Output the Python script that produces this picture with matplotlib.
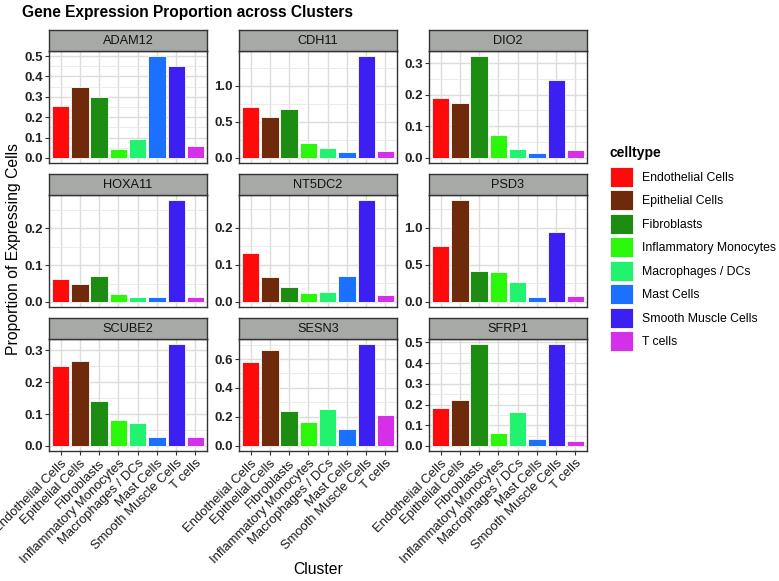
import numpy as np
import matplotlib
matplotlib.use("Agg")
import matplotlib.pyplot as plt
from matplotlib.patches import Patch
from matplotlib.ticker import MultipleLocator

plt.rcParams['font.family'] = ['Liberation Sans', 'DejaVu Sans']

# -------------------------------
# Data
# -------------------------------
celltypes = ["Endothelial Cells", "Epithelial Cells", "Fibroblasts",
             "Inflammatory Monocytes", "Macrophages / DCs", "Mast Cells",
             "Smooth Muscle Cells", "T cells"]
colors = ["#FF0A0A", "#6E2A0A", "#1C8C12", "#2AF70A",
          "#22F26E", "#1C70FF", "#3C20F2", "#D430EA"]

genes = ["ADAM12", "CDH11", "DIO2", "HOXA11", "NT5DC2", "PSD3",
         "SCUBE2", "SESN3", "SFRP1"]

adam12 = [0.254, 0.349, 0.300, 0.042, 0.095, 0.500, 0.451, 0.059]
cdh11 = [0.706, 0.560, 0.674, 0.200, 0.138, 0.087, 1.408, 0.092]
dio2 = [0.190, 0.173, 0.322, 0.073, 0.027, 0.016, 0.246, 0.024]
hoxa11 = [0.063, 0.050, 0.070, 0.022, 0.013, 0.012, 0.277, 0.012]
nt5dc2 = [0.132, 0.067, 0.041, 0.024, 0.028, 0.070, 0.274, 0.019]
psd3 = [0.758, 1.377, 0.413, 0.400, 0.270, 0.072, 0.946, 0.085]
scube2 = [0.250, 0.268, 0.142, 0.080, 0.072, 0.027, 0.320, 0.028]
sesn3 = [0.580, 0.664, 0.244, 0.162, 0.258, 0.116, 0.703, 0.210]
sfrp1 = [0.185, 0.224, 0.492, 0.061, 0.166, 0.035, 0.492, 0.026]

values = [adam12, cdh11, dio2, hoxa11, nt5dc2, psd3, scube2, sesn3, sfrp1]
ytick_steps = [0.1, 0.5, 0.1, 0.1, 0.1, 0.5, 0.1, 0.2, 0.1]

# -------------------------------
# Layout (pixels of a 779x581 figure)
# -------------------------------
W, H = 779, 581
fig = plt.figure(figsize=(W / 100, H / 100), dpi=100)

col_left = [49, 239, 429]
panel_w = 158
row_top = [51, 195, 339]
panel_h = 112
strip_h = 21

x = np.arange(len(celltypes))

for i, gene in enumerate(genes):
    r, c = divmod(i, 3)
    left = col_left[c] / W
    bottom = 1 - (row_top[r] + panel_h) / H
    ax = fig.add_axes([left, bottom, panel_w / W, panel_h / H])

    vals = values[i]
    ax.bar(x, vals, width=0.9, color=colors, edgecolor="white", linewidth=0.6, zorder=3)
    top = max(vals)
    ax.set_ylim(-0.05 * top, top * 1.05)
    ax.set_xlim(-0.6, len(celltypes) - 0.4)

    step = ytick_steps[i]
    ax.yaxis.set_major_locator(MultipleLocator(step))
    ax.yaxis.set_minor_locator(MultipleLocator(step / 2))
    ax.yaxis.set_major_formatter(plt.FormatStrFormatter('%.1f'))
    ax.set_xticks(x)

    ax.grid(True, which="major", color="#DCDCDC", linewidth=1.0, zorder=0)
    ax.grid(True, which="minor", axis="y", color="#E8E8E8", linewidth=0.6, zorder=0)
    ax.set_axisbelow(True)
    for s in ax.spines.values():
        s.set_color("#333333")
        s.set_linewidth(1.0)

    ax.tick_params(axis="y", which="major", length=3, color="#333333",
                   labelsize=9.5, labelcolor="#222222", pad=1.5)
    ax.tick_params(axis="y", which="minor", length=0)
    for lab in ax.get_yticklabels():
        lab.set_fontweight("bold")

    if r == 2:
        ax.tick_params(axis="x", length=3, color="#333333", labelsize=9.4,
                       labelcolor="#1A1A1A", pad=1.5)
        ax.set_xticklabels(celltypes, rotation=45, ha="right", rotation_mode="anchor")
    else:
        ax.tick_params(axis="x", length=0, labelbottom=False)

    # strip on top of the panel
    sax = fig.add_axes([left, 1 - row_top[r] / H, panel_w / W, strip_h / H])
    sax.set_facecolor("#A6A9A6")
    sax.set_xticks([])
    sax.set_yticks([])
    for s in sax.spines.values():
        s.set_color("#333333")
        s.set_linewidth(1.0)
    sax.text(0.5, 0.48, gene, ha="center", va="center", fontsize=9.2, color="#111111",
             transform=sax.transAxes)

# -------------------------------
# Titles and legend
# -------------------------------
fig.text(22 / W, 1 - 12 / H, "Gene Expression Proportion across Clusters",
         ha="left", va="center", fontsize=11.2, fontweight="bold")
fig.text(14 / W, 1 - 249 / H, "Proportion of Expressing Cells", rotation=90,
         ha="center", va="center", fontsize=11.3)
fig.text(318 / W, 1 - 570 / H, "Cluster", ha="center", va="center", fontsize=11.3)

fig.text(610 / W, 1 - 153 / H, "celltype", ha="left", va="center",
         fontsize=10, fontweight="bold")
handles = [Patch(facecolor=col, edgecolor="white", linewidth=0.6) for col in colors]
leg = fig.legend(handles, celltypes, loc="upper left",
                 bbox_to_anchor=(605 / W, 1 - 162 / H), frameon=False,
                 fontsize=8.8, handlelength=1.9, handleheight=2.15,
                 labelspacing=0.28, handletextpad=0.7,
                 borderaxespad=0.0, borderpad=0.4)

plt.savefig("out.png", dpi=100)
